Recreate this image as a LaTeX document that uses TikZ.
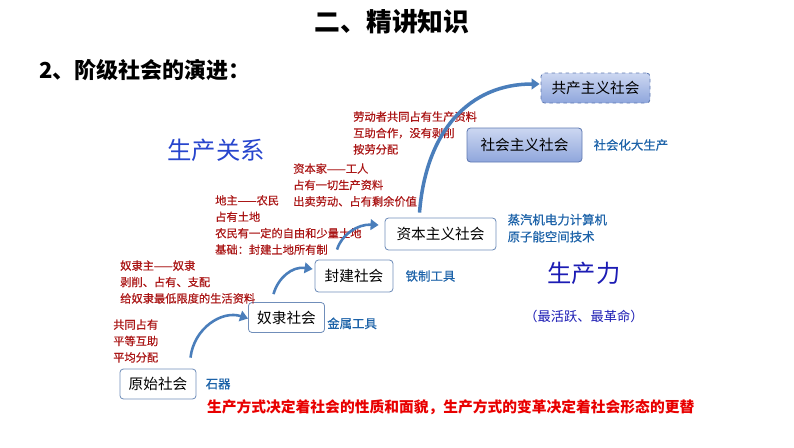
\documentclass[tikz,border=0pt]{standalone}
\usepackage{fontspec}
\setmainfont{Noto Sans CJK SC}
\newfontfamily\heavyfont{Noto Sans CJK SC}[FakeBold=0.5]
\usetikzlibrary{arrows.meta, positioning}

\definecolor{boxline}{RGB}{112,142,186}
\definecolor{futureline}{RGB}{96,122,178}
\definecolor{futuretop}{RGB}{204,215,241}
\definecolor{futurebottom}{RGB}{143,166,220}
\definecolor{arrowblue}{RGB}{74,126,187}
\definecolor{relred}{RGB}{170,22,22}
\definecolor{toolblue}{RGB}{28,98,168}
\definecolor{bigblue}{RGB}{40,70,205}
\definecolor{forceblue}{RGB}{28,28,180}
\definecolor{mainred}{RGB}{232,0,0}

\begin{document}
\begin{tikzpicture}[
    x=0.03cm, y=-0.03cm,
    >={Triangle[length=2.4mm, width=3.2mm]},
    stage/.style={rectangle, draw=boxline, line width=0.7pt, rounded corners=3pt, fill=white, minimum height=0.9cm, inner xsep=7.5pt, font=\fontsize{12.5}{14}\selectfont},
    future/.style={stage, draw=futureline, top color=futuretop, bottom color=futurebottom},
    rel/.style={text=relred, align=left, anchor=west, inner sep=0pt, font=\heavyfont\fontsize{9.6}{14}\selectfont},
    tool/.style={text=toolblue, align=left, anchor=west, inner sep=0pt, font=\heavyfont\fontsize{10.6}{14.5}\selectfont},
    evolve/.style={->, draw=arrowblue, line width=2.2pt}
]
\useasboundingbox (0,0) rectangle (794,447);

% Headings
\node[font=\fontsize{22}{24}\selectfont\bfseries] (title) at (392,22) {二、精讲知识};
\node[font=\fontsize{18.8}{22}\selectfont\bfseries, anchor=west] (sub) at (35,70) {2、阶级社会的演进：};

% Stages
\node[stage] (yuanshi) at (158,384) {原始社会};
\node[stage, minimum width=2.19cm] (nuli) at (286.5,317.5) {奴隶社会};
\node[stage, minimum width=2.34cm, minimum height=0.96cm] (fengjian) at (354,276) {封建社会};
\node[stage, minimum width=3.33cm, minimum height=0.96cm] (ziben) at (440.5,234) {资本主义社会};
\node[future, minimum width=3.45cm, minimum height=1.02cm] (shehui) at (524.5,145) {社会主义社会};
\node[future, dashed, minimum width=3.27cm] (gongchan) at (595.5,88) {共产主义社会};

% Productive forces
\node[tool, right=0.27cm of yuanshi] (shiqi) {石器};
\node[tool, right=0.06cm of nuli, yshift=-5pt] (jinshu) {金属工具};
\node[tool, right=0.36cm of fengjian] (tiezhi) {铁制工具};
\node[tool, right=0.33cm of ziben, yshift=5pt] (jiqi) {蒸汽机电力计算机\\原子能空间技术};
\node[tool, right=0.33cm of shehui] (dash) {社会化大生产};

% Relations of production
\node[rel] (r1) at (113,341) {共同占有\\平等互助\\平均分配};
\node[rel] (r2) at (120,282) {奴隶主——奴隶\\剥削、占有、支配\\给奴隶最低限度的生活资料};
\node[rel] (r3) at (215,225) {地主——农民\\占有土地\\农民有一定的自由和少量土地\\基础：封建土地所有制};
\node[rel] (r4) at (293,185) {资本家——工人\\占有一切生产资料\\出卖劳动、占有剩余价值};
\node[rel] (r5) at (353,133) {劳动者共同占有生产资料\\互助合作，没有剥削\\按劳分配};

% Big labels
\node[text=bigblue, font=\fontsize{20.8}{24}\selectfont] (guanxi) at (216,150) {生产关系};
\node[text=forceblue, font=\fontsize{20.7}{24}\selectfont] (shengchanli) at (584,273) {生产力};
\node[text=forceblue, font=\fontsize{11.3}{14}\selectfont, below=0.52cm of shengchanli] (note) {（最活跃、最革命）};

\node[text=mainred, font=\fontsize{12.6}{15}\selectfont\bfseries, anchor=west] (law) at (203,407) {生产方式决定着社会的性质和面貌，生产方式的变革决定着社会形态的更替};

% Evolution arrows
\draw[evolve] ([shift={(-6,-11)}]yuanshi.north east) .. controls (194,328) and (222,310) .. ([shift={(0,1)}]nuli.west);
\draw[evolve] ([shift={(-13,-8)}]nuli.north) .. controls (278,278) and (292,266) .. ([shift={(-2,-7)}]fengjian.west);
\draw[evolve] ([shift={(-17,-10)}]fengjian.north) .. controls (342,234) and (358,224) .. ([shift={(-6,-9)}]ziben.west);
\draw[evolve, line width=3pt] ([shift={(-21,-5)}]ziben.north) .. controls (426,130) and (470,84) .. ([shift={(-1,-4)}]gongchan.west);

\end{tikzpicture}
\end{document}
